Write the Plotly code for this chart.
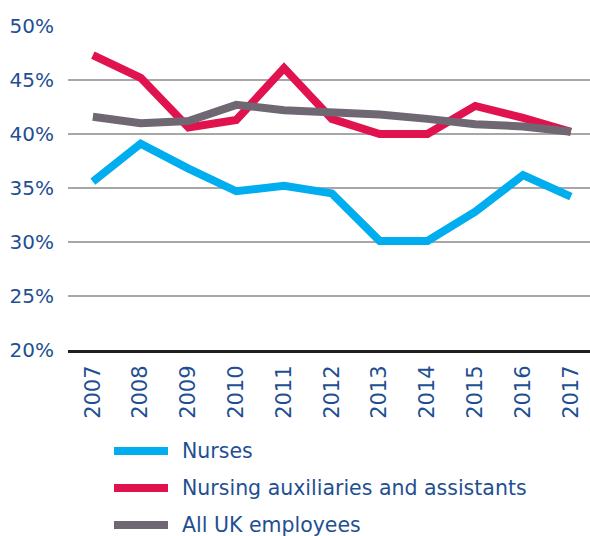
import plotly.graph_objects as go

years = [2007, 2008, 2009, 2010, 2011, 2012, 2013, 2014, 2015, 2016, 2017]
nurses = [35.6, 39.1, 36.8, 34.7, 35.2, 34.5, 30.1, 30.1, 32.8, 36.2, 34.2]
auxiliaries = [47.3, 45.2, 40.6, 41.3, 46.1, 41.4, 40.0, 40.0, 42.6, 41.5, 40.2]
all_uk = [41.6, 41.0, 41.2, 42.7, 42.2, 42.0, 41.8, 41.4, 40.9, 40.7, 40.2]

series_names = ["Nurses", "Nursing auxiliaries and assistants", "All UK employees"]
series_values = [nurses, auxiliaries, all_uk]
series_colors = ["#00aeef", "#e0134f", "#6f6872"]

y_ticks = [20, 25, 30, 35, 40, 45, 50]
y_tick_labels = ["20%", "25%", "30%", "35%", "40%", "45%", "50%"]

text_color = "#1f4f93"
font_family = "DejaVu Sans"

fig = go.Figure()
for i in [0, 1, 2]:
    fig.add_trace(go.Scatter(
        x=years, y=series_values[i], mode="lines", name=series_names[i],
        line=dict(color=series_colors[i], width=8),
        showlegend=False,
    ))

# custom legend (shapes + text) below the plot
legend_rows_px = [451, 488, 525]
plot_top, plot_bottom, plot_left, plot_right = 26, 350, 68, 590
ph = plot_bottom - plot_top
pw = plot_right - plot_left
for name, color, py in zip(series_names, series_colors, legend_rows_px):
    yp = (plot_bottom - py) / ph
    fig.add_shape(type="line", xref="paper", yref="paper",
                  x0=(114 - plot_left) / pw, x1=(168 - plot_left) / pw,
                  y0=yp, y1=yp, line=dict(color=color, width=8),
                  layer="above")
    fig.add_annotation(xref="paper", yref="paper", x=(180 - plot_left) / pw, y=yp,
                       text=name, showarrow=False, xanchor="left", yanchor="middle",
                       font=dict(family=font_family, size=20.5, color=text_color))

fig.update_layout(
    width=590, height=536,
    margin=dict(l=plot_left, r=0, t=plot_top, b=536 - plot_bottom),
    plot_bgcolor="white", paper_bgcolor="white",
    font=dict(family=font_family, color=text_color),
    xaxis=dict(
        range=[2006.48, 2017.4], tickmode="array", tickvals=years,
        ticktext=[str(y) for y in years], tickangle=-90,
        tickfont=dict(size=21, color=text_color),
        showgrid=False, zeroline=False,
        showline=True, linecolor="#231f20", linewidth=3,
        ticks="outside", ticklen=4, tickcolor="rgba(0,0,0,0)",
    ),
    yaxis=dict(
        range=[20, 50], tickmode="array", tickvals=y_ticks, ticktext=y_tick_labels,
        tickfont=dict(size=20, color=text_color),
        showgrid=True, gridcolor="#a7a7a7", gridwidth=2,
        zeroline=False, showline=False,
        ticks="outside", ticklen=9, tickcolor="rgba(0,0,0,0)",
    ),
)

fig.write_html("out.html", config={"displayModeBar": False},
               post_script="document.body.style.margin='0';document.body.style.overflow='hidden';")
